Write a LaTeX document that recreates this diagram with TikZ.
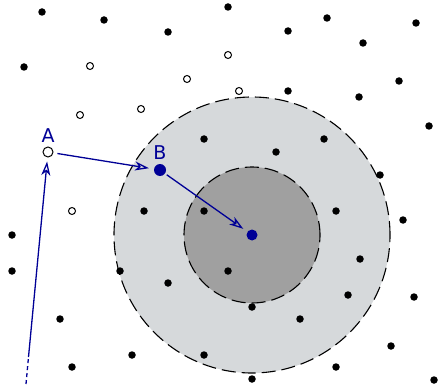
\documentclass[tikz,border=0pt]{standalone}
\usepackage{fontspec}
\setmainfont{DejaVu Sans}
\usepackage{xcolor}
\usepackage{tikz}
\usetikzlibrary{arrows.meta, positioning}
\definecolor{pathblue}{RGB}{0,0,150}
\definecolor{outergray}{RGB}{214,217,219}
\definecolor{innergray}{RGB}{160,160,160}

\begin{document}
\begin{tikzpicture}[
    x=1pt, y=-1pt,
    dot/.style={circle, fill=black, inner sep=0pt, minimum size=7.5pt},
    hollow/.style={circle, draw=black, fill=white, line width=1pt, inner sep=0pt, minimum size=7pt},
    startpt/.style={circle, draw=black, fill=white, line width=1pt, inner sep=0pt, minimum size=10pt},
    bluept/.style={circle, fill=pathblue, inner sep=0pt, minimum size=12pt},
    centerpt/.style={circle, fill=pathblue, inner sep=0pt, minimum size=11pt},
    zone/.style={draw=black, line width=1.1pt, dash pattern=on 14pt off 6pt},
    lbl/.style={text=pathblue, font=\fontsize{19}{22}\selectfont, inner sep=0pt},
    hop/.style={draw=pathblue, line width=1.3pt, -{Stealth[open, length=14pt, width=9pt, inset=4pt]}}
]
\useasboundingbox (0,0) rectangle (438,390);

% Search zones
\coordinate (c) at (252,235);
\draw[zone, fill=outergray] (c) circle[radius=138pt];
\draw[zone, fill=innergray] (c) circle[radius=68pt];

% Data points
\foreach \p [count=\i] in {(42,12),(104,20),(168,32),(228,7),(327,18),(416,23),(288,31),(363,43),
    (24,67),(399,81),(288,91),(359,97),(429,126),(204,139),(324,139),(276,152),(380,175),
    (144,211),(204,211),(336,211),(403,220),(12,235),(360,259),(12,271),(120,271),(228,271),
    (168,283),(348,295),(414,297),(252,307),(60,319),(300,319),(391,346),(132,355),(204,355),
    (336,367),(72,367),(252,379),(434,380)}
    \node[dot] (d\i) at \p {};

% Visited points
\foreach \p [count=\i] in {(90,66),(187,79),(228,55),(239,91),(80,115),(141,109),(72,211)}
    \node[hollow] (v\i) at \p {};

% Walk
\node[startpt] (a) at (48,152) {};
\node[bluept] (b) at (160,170) {};
\node[centerpt] (q) at (252,235) {};
\node[lbl, above=4pt of a] (la) {A};
\node[lbl, above=4pt of b] (lb) {B};

\coordinate (s0) at (26,384);
\coordinate (s1) at (28.5,357);
\draw[draw=pathblue, line width=1.3pt, dash pattern=on 4pt off 3pt] (s0) -- (s1);
\draw[hop, shorten >=4pt] (s1) -- (a);
\draw[hop, shorten <=4pt, shorten >=5pt] (a) -- (b);
\draw[hop, shorten <=2pt, shorten >=5pt] (b) -- (q);

\end{tikzpicture}
\end{document}
